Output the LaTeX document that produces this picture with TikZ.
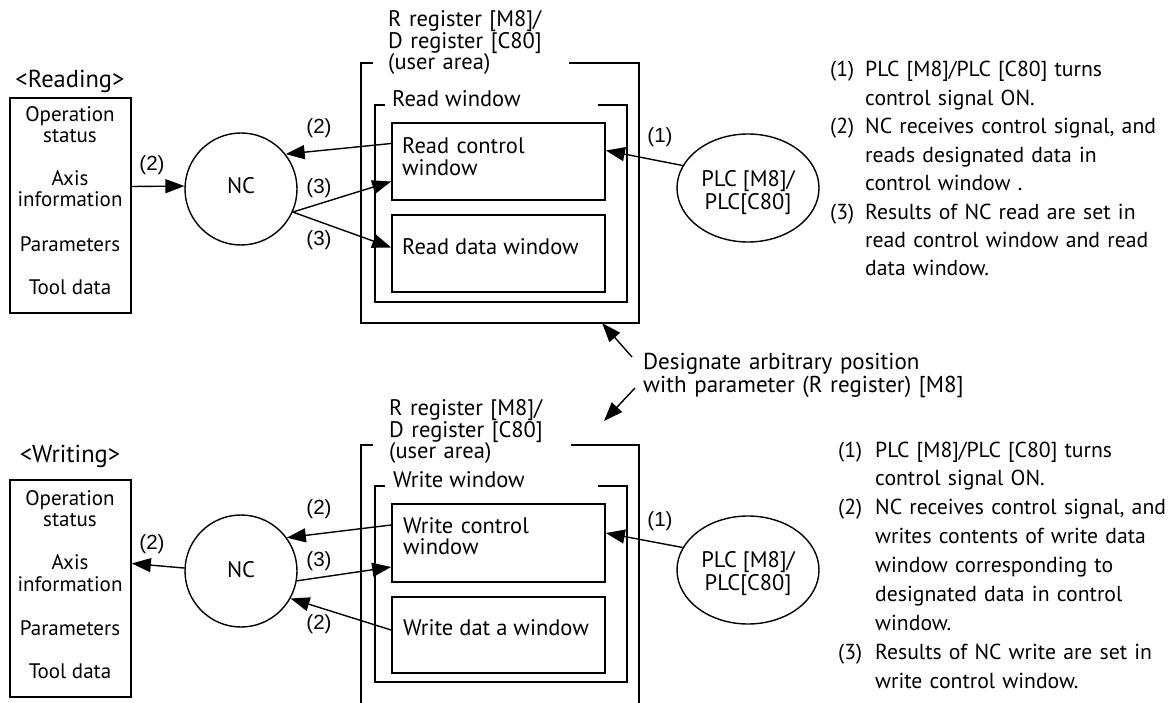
\documentclass[tikz,border=0pt]{standalone}
\usepackage{fontspec}
\setmainfont{PT Sans}
\newfontfamily\labfont{Liberation Sans}
\usetikzlibrary{arrows.meta,shapes.geometric}
\begin{document}
\begin{tikzpicture}[x=1pt,y=-1pt,
  box/.style={draw, line width=1.7pt, inner sep=0pt},
  frame/.style={line width=1.7pt},
  txt/.style={inner sep=0pt, font=\fontsize{22.5}{21}\selectfont},
  side/.style={inner sep=0pt, font=\fontsize{21}{21}\selectfont},
  ml/.style={inner sep=0pt, font=\fontsize{22.5}{21.5}\selectfont, align=left, text width=300pt},
  note/.style={inner sep=0pt, font=\fontsize{21.7}{28.4}\selectfont, align=left, text width=330pt},
  notenum/.style={inner sep=0pt, font=\fontsize{21.7}{28.4}\selectfont},
  title/.style={inner sep=0pt, font=\fontsize{24.5}{25}\selectfont},
  lbl/.style={inner sep=0pt, font=\labfont\fontsize{20.5}{20}\selectfont},
  conn/.style={line width=1.4pt, -{Triangle[length=19pt,width=14pt]}},
  ring/.style={draw, circle, line width=1.4pt, minimum size=112pt, inner sep=0pt},
  oval/.style={draw, ellipse, line width=1.4pt, minimum width=142pt, minimum height=108pt, inner sep=0pt},
  hidden/.style={inner sep=0pt, draw=none}
]
\useasboundingbox (0,0) rectangle (1171,703);

% ================= READING =================
\node[title, anchor=base] (tR) at (70,88) {<Reading>};
\node[box, minimum width=121pt, minimum height=215pt] (src1) at (70.5,205.5) {};
\node[side, anchor=base] (s1a) at (70,122) {Operation};
\node[side, anchor=base] (s1b) at (70,143) {status};
\node[side, anchor=base] (s1c) at (70,186) {Axis};
\node[side, anchor=base] (s1d) at (70,207) {information};
\node[side, anchor=base] (s1e) at (70,252) {Parameters};
\node[side, anchor=base] (s1f) at (70,295) {Tool data};

\node[ring] (nc1) at (241,189) {};
\node[txt, anchor=base] (nc1t) at (241,194) {NC};

\node[hidden, minimum width=278pt, minimum height=260pt] (ua1) at (500,193) {};
\draw[frame] ([xshift=12pt]ua1.north west) -- (ua1.north west) -- (ua1.south west) -- (ua1.south east) -- (ua1.north east) -- ([xshift=-70pt]ua1.north east);
\node[ml, anchor=base west] (ua1t) at (388,27) {R register [M8]/\\D register [C80]\\(user area)};

\node[hidden, minimum width=252pt, minimum height=197pt] (rw1) at (501,203.5) {};
\draw[frame] ([xshift=10pt]rw1.north west) -- (rw1.north west) -- (rw1.south west) -- (rw1.south east) -- (rw1.north east) -- ([xshift=-29pt]rw1.north east);
\node[txt, anchor=base west] (rw1t) at (392,107) {Read window};

\node[box, minimum width=213pt, minimum height=77pt] (rc1) at (498.5,161.5) {};
\node[ml, anchor=base west] (rc1t) at (402,154) {Read control\\window};
\node[box, minimum width=213pt, minimum height=77pt] (rd1) at (498.5,253.5) {};
\node[txt, anchor=base west] (rd1t) at (402,255) {Read data window};

\node[oval] (plc1) at (748,188) {};
\node[txt, anchor=base] (plc1a) at (748,187) {PLC [M8]/};
\node[txt, anchor=base] (plc1b) at (748,210) {PLC[C80]};

\draw[conn] ([yshift=19pt]src1.east) -- (nc1.177);
\draw[conn] ([yshift=18pt]rc1.west) -- (nc1.38);
\draw[conn] (nc1.-24) -- ([yshift=-20pt]rc1.west);
\draw[conn] (nc1.-24) -- ([yshift=6pt]rd1.west);
\draw[conn] (plc1.161) -- ([yshift=11pt]rc1.east);

\node[lbl, anchor=base] (l1a) at (152,171) {(2)};
\node[lbl, anchor=base] (l1b) at (319,134) {(2)};
\node[lbl, anchor=base] (l1c) at (319,194) {(3)};
\node[lbl, anchor=base] (l1d) at (319,246) {(3)};
\node[lbl, anchor=base] (l1e) at (660,143) {(1)};

\node[notenum, anchor=base west] (n1a) at (830,77) {(1)};
\node[note, anchor=base west] (n1at) at (865,77) {PLC [M8]/PLC [C80] turns\\control signal ON.};
\node[notenum, anchor=base west] (n1b) at (830,134) {(2)};
\node[note, anchor=base west] (n1bt) at (865,134) {NC receives control signal, and\\reads designated data in\\control window .};
\node[notenum, anchor=base west] (n1c) at (830,219.2) {(3)};
\node[note, anchor=base west] (n1ct) at (865,219.2) {Results of NC read are set in\\read control window and read\\data window.};

% ================= DESIGNATE =================
\node[ml, anchor=base west, text width=400pt, font=\fontsize{23}{20}\selectfont] (des) at (643,370) {Designate arbitrary position\\with parameter (R register) [M8]};
\coordinate (d1s) at (632,357);
\coordinate (d2s) at (635,388);
\coordinate (d2e) at (604,421);
\draw[conn] (d1s) -- ([xshift=-37pt]ua1.south east);
\draw[conn] (d2s) -- (d2e);

% ================= WRITING =================
\node[title, anchor=base] (tW) at (70,462) {<Writing>};
\node[box, minimum width=121pt, minimum height=217pt] (src2) at (70.5,588.5) {};
\node[side, anchor=base] (s2a) at (70,505) {Operation};
\node[side, anchor=base] (s2b) at (70,526) {status};
\node[side, anchor=base] (s2c) at (70,569) {Axis};
\node[side, anchor=base] (s2d) at (70,591) {information};
\node[side, anchor=base] (s2e) at (70,635) {Parameters};
\node[side, anchor=base] (s2f) at (70,678) {Tool data};

\node[ring] (nc2) at (241,571) {};
\node[txt, anchor=base] (nc2t) at (241,577) {NC};

\node[hidden, minimum width=278pt, minimum height=258pt] (ua2) at (500,574) {};
\draw[frame] ([xshift=12pt]ua2.north west) -- (ua2.north west) -- (ua2.south west);
\draw[frame] (ua2.south east) -- (ua2.north east) -- ([xshift=-68pt]ua2.north east);
\node[ml, anchor=base west] (ua2t) at (389,416) {R register [M8]/\\D register [C80]\\(user area)};

\node[hidden, minimum width=252pt, minimum height=196pt] (ww2) at (501,584) {};
\draw[frame] ([xshift=10pt]ww2.north west) -- (ww2.north west) -- (ww2.south west) -- (ww2.south east) -- (ww2.north east) -- ([xshift=-29pt]ww2.north east);
\node[txt, anchor=base west] (ww2t) at (393,487) {Write window};

\node[box, minimum width=213pt, minimum height=78pt] (wc2) at (498.5,543) {};
\node[ml, anchor=base west] (wc2t) at (403,533) {Write control\\window};
\node[box, minimum width=213pt, minimum height=76pt] (wd2) at (498.5,635) {};
\node[txt, anchor=base west] (wd2t) at (403,635) {Write dat a window};

\node[oval] (plc2) at (748,570) {};
\node[txt, anchor=base] (plc2a) at (748,567) {PLC [M8]/};
\node[txt, anchor=base] (plc2b) at (748,590) {PLC[C80]};

\draw[conn] (nc2.177) -- ([yshift=25pt]src2.east);
\draw[conn] ([yshift=18pt]wc2.west) -- (nc2.36);
\draw[conn] (nc2.-10) -- ([yshift=-24pt]wc2.west);
\draw[conn] ([yshift=5pt]wd2.west) -- (nc2.-29);
\draw[conn] (plc2.161) -- ([yshift=10pt]wc2.east);

\node[lbl, anchor=base] (l2a) at (152,549) {(2)};
\node[lbl, anchor=base] (l2b) at (319,514) {(2)};
\node[lbl, anchor=base] (l2c) at (319,566) {(3)};
\node[lbl, anchor=base] (l2d) at (319,629) {(2)};
\node[lbl, anchor=base] (l2e) at (660,526) {(1)};

\node[notenum, anchor=base west] (n2a) at (838,457) {(1)};
\node[note, anchor=base west, font=\fontsize{21.7}{28.9}\selectfont] (n2at) at (875,457) {PLC [M8]/PLC [C80] turns\\control signal ON.};
\node[notenum, anchor=base west] (n2b) at (838,514.8) {(2)};
\node[note, anchor=base west, font=\fontsize{21.7}{28.9}\selectfont] (n2bt) at (875,514.8) {NC receives control signal, and\\writes contents of write data\\window corresponding to\\designated data in control\\window.};
\node[notenum, anchor=base west] (n2c) at (838,659.3) {(3)};
\node[note, anchor=base west, font=\fontsize{21.7}{28.9}\selectfont] (n2ct) at (875,659.3) {Results of NC write are set in\\write control window.};
\end{tikzpicture}
\end{document}
